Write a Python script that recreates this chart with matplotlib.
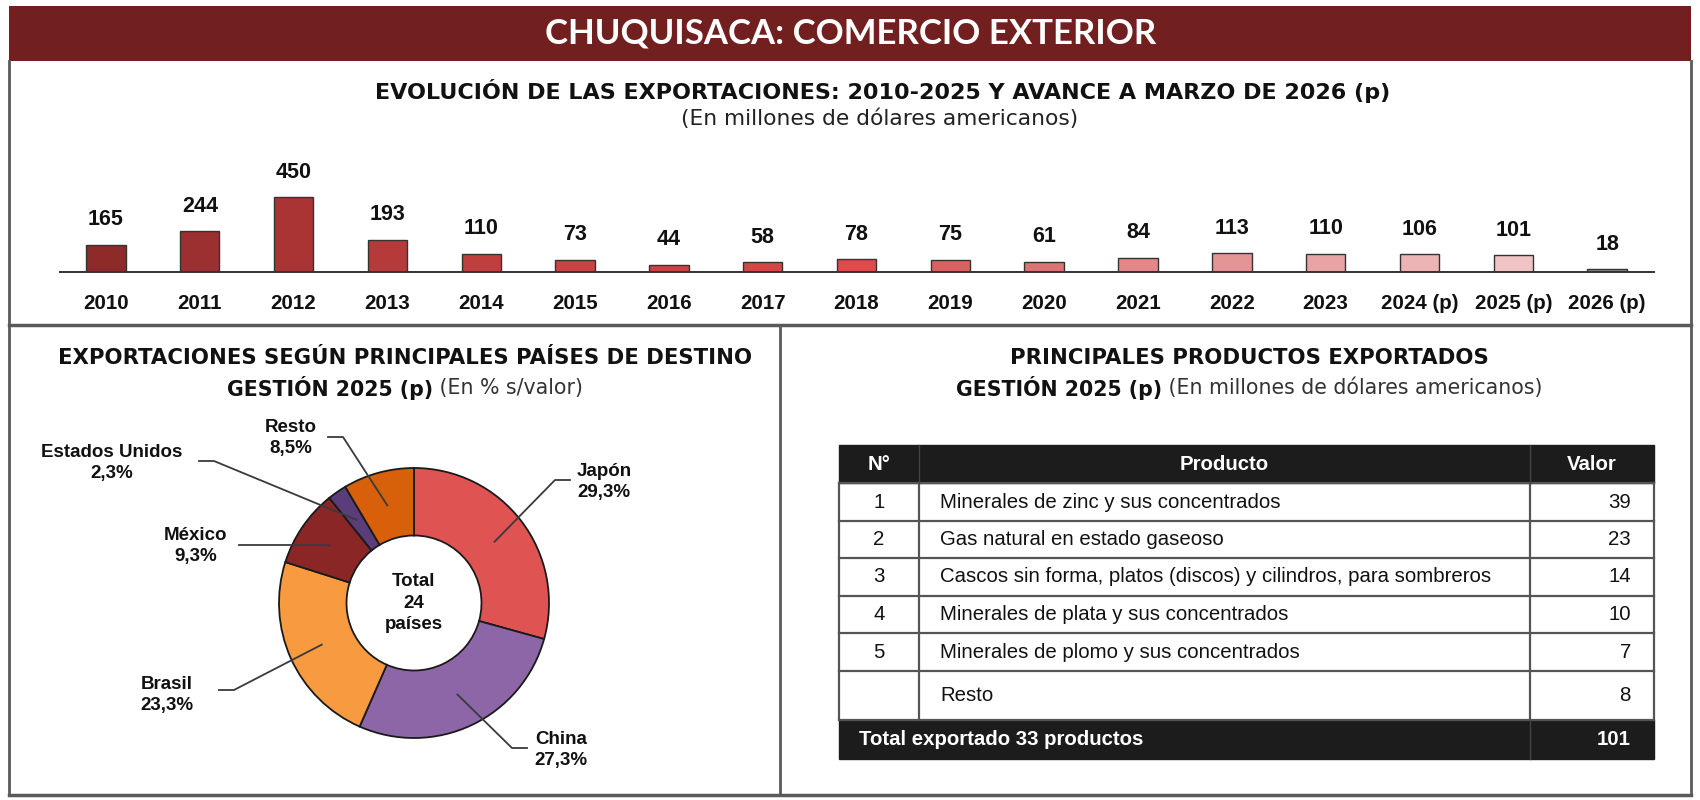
import matplotlib
matplotlib.use('Agg')
import matplotlib.pyplot as plt
from matplotlib.patches import Rectangle
import numpy as np

# ---- data ----
years = ['2010', '2011', '2012', '2013', '2014', '2015', '2016', '2017', '2018',
         '2019', '2020', '2021', '2022', '2023', '2024 (p)', '2025 (p)', '2026 (p)']
exports = [165, 244, 450, 193, 110, 73, 44, 58, 78, 75, 61, 84, 113, 110, 106, 101, 18]
bar_colors = ['#8e2a2a', '#9c2f2f', '#aa3434', '#b63a3a', '#c03e3e', '#c94343', '#cc4242',
              '#d44747', '#de4b4b', '#dc6262', '#de7272', '#e28888', '#e49494', '#e8a4a4',
              '#ecb4b4', '#f0c4c4', '#8c8c8c']

countries = ['Japón', 'China', 'Brasil', 'México', 'Estados Unidos', 'Resto']
shares = [29.3, 27.3, 23.3, 9.3, 2.3, 8.5]
pie_colors = ['#e05353', '#8d66a8', '#f89b40', '#8a2626', '#5a3d7a', '#d8600a']
n_countries = 24

prod_num = ['1', '2', '3', '4', '5', '']
products = ['Minerales de zinc y sus concentrados',
            'Gas natural en estado gaseoso',
            'Cascos sin forma, platos (discos) y cilindros, para sombreros',
            'Minerales de plata y sus concentrados',
            'Minerales de plomo y sus concentrados',
            'Resto']
prod_values = [39, 23, 14, 10, 7, 8]
n_products = 33
total_value = 101

ARIAL = ['Liberation Sans', 'DejaVu Sans']
WIDE = ['DejaVu Sans']
W, H = 1700, 800

fig = plt.figure(figsize=(17, 8), dpi=100)
fig.patch.set_facecolor('white')

# background layer in pixel coords
bg = fig.add_axes([0, 0, 1, 1])
bg.set_xlim(0, W)
bg.set_ylim(H, 0)
bg.axis('off')

# header band
bg.add_patch(Rectangle((9, 6), 1682, 55, facecolor='#721f1f', edgecolor='none'))
bg.text(851, 33, 'CHUQUISACA: COMERCIO EXTERIOR', color='white', fontsize=25,
        fontweight='bold', family=['Lato', 'DejaVu Sans'], ha='center', va='center')

# frame lines
fc = '#5a5a5a'
bg.plot([9, 9], [61, 795], color=fc, lw=2)
bg.plot([1691, 1691], [61, 795], color=fc, lw=2)
bg.plot([9, 1691], [325, 325], color=fc, lw=2.5)
bg.plot([9, 1691], [795, 795], color=fc, lw=2.5)
bg.plot([780, 780], [325, 795], color=fc, lw=2)

# bar chart titles
bg.text(883, 91, 'EVOLUCIÓN DE LAS EXPORTACIONES: 2010-2025 Y AVANCE A MARZO DE 2026 (p)',
        fontsize=16, fontweight='bold', family=WIDE, ha='center', va='center', color='#111111')
bg.text(880, 119, '(En millones de dólares americanos)', fontsize=15.7, family=WIDE,
        ha='center', va='center', color='#222222')

fig.canvas.draw()
renderer = fig.canvas.get_renderer()


def two_part_title(xc, y, bold_txt, norm_txt, size):
    t1 = bg.text(0, y, bold_txt, fontsize=size, fontweight='bold', family=WIDE,
                 ha='left', va='center', color='#111111')
    t2 = bg.text(0, y, ' ' + norm_txt, fontsize=size, family=WIDE,
                 ha='left', va='center', color='#333333')
    w1 = t1.get_window_extent(renderer).width
    w2 = t2.get_window_extent(renderer).width
    x0 = xc - (w1 + w2) / 2
    t1.set_x(x0)
    t2.set_x(x0 + w1)


# ---- bar chart ----
ax = fig.add_axes([60 / W, (H - 272) / H, (1654 - 60) / W, 132 / H])
ax.patch.set_alpha(0)
x = np.arange(len(years))
ax.bar(x, exports, width=0.42, color=bar_colors, edgecolor='#333333', linewidth=1)
ax.set_xlim(-0.49, 16.5)
ax.set_ylim(0, 792)
for s in ['top', 'left', 'right']:
    ax.spines[s].set_visible(False)
ax.spines['bottom'].set_color('#333333')
ax.spines['bottom'].set_linewidth(1.4)
ax.set_yticks([])
ax.set_xticks(x)
ax.set_xticklabels(years, fontsize=14.8, fontweight='bold', family=ARIAL, color='#111111')
ax.tick_params(axis='x', length=0, pad=16)
for i, v in enumerate(exports):
    ax.annotate(str(v), (i, v), xytext=(0, 18), textcoords='offset points',
                ha='center', va='center', fontsize=15.5, fontweight='bold',
                family=ARIAL, color='#111111')

# ---- donut ----
cx, cy, R = 414, 603, 135
px0, px1, py0, py1 = 30, 760, 400, 790
ax2 = fig.add_axes([px0 / W, (H - py1) / H, (px1 - px0) / W, (py1 - py0) / H])
wedges, _ = ax2.pie(shares, colors=pie_colors, startangle=90, counterclock=False,
                    radius=1, wedgeprops=dict(width=0.5, edgecolor='#1a1a1a', linewidth=1.3))
ax2.set_xlim((px0 - cx) / R, (px1 - cx) / R)
ax2.set_ylim((cy - py1) / R, (cy - py0) / R)
ax2.set_aspect('equal')


def d(px, py):
    return (px - cx) / R, (cy - py) / R


# label text centre, elbow, end of horizontal stub (pixels)
label_pos = [(604, 482), (561, 750), (167, 695), (196, 546), (112, 463), (291, 438)]
elbows = [(555, 480), (512, 748), (234, 690), (328, 545), (214, 461), (343, 437)]
stubs = [(570, 480), (527, 748), (219, 690), (239, 545), (199, 461), (328, 437)]
for w, name, val, lp, el, st in zip(wedges, countries, shares, label_pos, elbows, stubs):
    mid = np.deg2rad((w.theta1 + w.theta2) / 2)
    ax_, ay_ = 0.75 * np.cos(mid), 0.75 * np.sin(mid)
    ex, ey = d(*el)
    sx, sy = d(*st)
    ax2.plot([ax_, ex, sx], [ay_, ey, sy], color='#3a3a3a', lw=1.3)
    tx, ty = d(*lp)
    ax2.text(tx, ty, name + '\n' + f'{val:.1f}'.replace('.', ',') + '%', ha='center',
             va='center', fontsize=13.5, fontweight='bold', family=ARIAL,
             color='#111111', linespacing=1.35)
ax2.text(0, 0, f'Total\n{n_countries}\npaíses', ha='center', va='center', fontsize=13.5,
         fontweight='bold', family=ARIAL, color='#111111', linespacing=1.35)

bg.text(405, 358, 'EXPORTACIONES SEGÚN PRINCIPALES PAÍSES DE DESTINO', fontsize=15.3,
        fontweight='bold', family=WIDE, ha='center', va='center', color='#111111')
two_part_title(405, 388, 'GESTIÓN 2025 (p)', '(En % s/valor)', 14.8)

# ---- table ----
bg.text(1249, 358, 'PRINCIPALES PRODUCTOS EXPORTADOS', fontsize=15.3,
        fontweight='bold', family=WIDE, ha='center', va='center', color='#111111')
two_part_title(1249, 388, 'GESTIÓN 2025 (p)', '(En millones de dólares americanos)', 14.8)

cols = [839, 919, 1530, 1654]
rows = [445, 483, 521, 558, 596, 633, 671, 720, 759]
dark = '#1c1c1c'
lc = '#555555'
bg.add_patch(Rectangle((cols[0], rows[0]), cols[-1] - cols[0], rows[1] - rows[0],
                       facecolor=dark, edgecolor=dark))
bg.add_patch(Rectangle((cols[0], rows[-2]), cols[-1] - cols[0], rows[-1] - rows[-2],
                       facecolor=dark, edgecolor=dark))
for yy in rows[1:-1]:
    bg.plot([cols[0], cols[-1]], [yy, yy], color=lc, lw=1.6)
for xx in cols:
    bg.plot([xx, xx], [rows[1], rows[-2]], color=lc, lw=1.6)
for xx in cols[1:3]:
    bg.plot([xx, xx], [rows[0], rows[1]], color='#444444', lw=1)
bg.plot([cols[2], cols[2]], [rows[-2], rows[-1]], color='#444444', lw=1)

fs = 14.7
hy = (rows[0] + rows[1]) / 2
bg.text((cols[0] + cols[1]) / 2, hy, 'N°', color='white', fontsize=fs, fontweight='bold',
        family=ARIAL, ha='center', va='center')
bg.text(1224, hy, 'Producto', color='white', fontsize=fs, fontweight='bold',
        family=ARIAL, ha='center', va='center')
bg.text(1592, hy, 'Valor', color='white', fontsize=fs, fontweight='bold',
        family=ARIAL, ha='center', va='center')
for i in range(len(products)):
    yc = (rows[i + 1] + rows[i + 2]) / 2
    bg.text((cols[0] + cols[1]) / 2, yc, prod_num[i], fontsize=fs, family=ARIAL,
            ha='center', va='center', color='#111111')
    bg.text(940, yc, products[i], fontsize=fs, family=ARIAL, ha='left', va='center',
            color='#111111')
    bg.text(1631, yc, str(prod_values[i]), fontsize=fs, family=ARIAL, ha='right',
            va='center', color='#111111')
ty_ = (rows[-2] + rows[-1]) / 2
bg.text(859, ty_, f'Total exportado {n_products} productos', color='white', fontsize=fs,
        fontweight='bold', family=ARIAL, ha='left', va='center')
bg.text(1631, ty_, str(total_value), color='white', fontsize=fs, fontweight='bold',
        family=ARIAL, ha='right', va='center')

fig.savefig('out.png', dpi=100, facecolor='white')
